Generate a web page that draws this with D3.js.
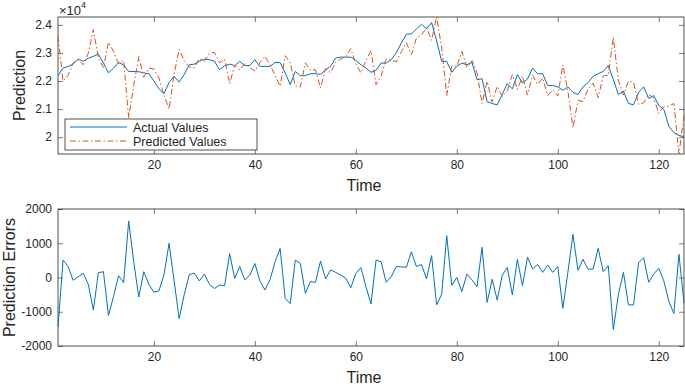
<!DOCTYPE html>
<html>
<head>
<meta charset="utf-8">
<script src="https://cdn.jsdelivr.net/npm/d3@7/dist/d3.min.js"></script>
<style>
body { margin: 0; background: #fff; }
text { font-family: "Liberation Sans", Arial, sans-serif; fill: #262626; }
</style>
</head>
<body>
<div id="main"></div>
<script>
// values, time steps 1..125
var actual = [
    22190, 22460, 22520, 22600, 22780, 22700, 22810, 22880, 22960, 22640,
    22290, 22460, 22660, 22570, 22340, 22340, 22330, 22290, 22260, 22000,
    21720, 21550, 21950, 22170, 21960, 22230, 22580, 22600, 22700, 22780,
    22760, 22700, 22400, 22550, 22600, 22550, 22700, 22550, 22550, 22760,
    22520, 22520, 22520, 22660, 22660, 22290, 21870, 22340, 22190, 22190,
    22260, 22260, 22230, 22400, 22520, 22820, 22850, 22850, 22850, 22730,
    22580, 22460, 22310, 22380, 22640, 22640, 22760, 23000, 23350, 23670,
    23680, 23850, 24020, 23860, 24080, 23430, 22700, 22700, 22310, 22520,
    22640, 22580, 22660, 22050, 22080, 21260, 21200, 21150, 21520, 21910,
    21720, 22230, 21930, 22070, 22460, 22260, 22260, 21840, 21840, 21790,
    21670, 21790, 21600, 21520, 21790, 21950, 22170, 22260, 22340, 22550,
    22050, 21520, 21640, 21200, 21150, 21600, 21790, 21380, 21480, 21130,
    20990, 20390, 20160, 20060, 20020
];
var predicted = [
    23590, 22000, 22200, 22650, 22760, 22580, 22990, 23830, 22820, 22470,
    23380, 23050, 22620, 22720, 20690, 21850, 22870, 22130, 22460, 22430,
    22110, 21500, 21000, 22250, 23130, 22720, 22500, 22470, 22800, 22700,
    22990, 23020, 22650, 22780, 21900, 22570, 22390, 22620, 22480, 22350,
    22650, 22880, 22580, 22200, 21810, 22900, 22640, 21830, 21780, 22650,
    22380, 22400, 21750, 22440, 22300, 22670, 22780, 22870, 23150, 22610,
    22290, 22730, 23080, 21870, 22180, 22780, 22740, 22680, 23040, 23370,
    22930, 23530, 23640, 23900, 23450, 24280, 23190, 21480, 22550, 22520,
    23050, 22480, 22730, 22300, 21200, 21990, 21250, 21810, 21450, 21640,
    22230, 21700, 22170, 21500, 22210, 21880, 22110, 21480, 21690, 21470,
    22570, 21640, 20340, 21310, 21270, 21710, 21920, 21410, 22180, 22200,
    23560, 22010, 21500, 22000, 21950, 21170, 21220, 21520, 21400, 20850,
    21090, 21100, 21200, 19400, 20770
];
var errors = [
    -1440, 510, 320, -80, 20, 120, -200, -950, 140, 170,
    -1110, -550, 50, -150, 1650, 460, -570, 170, -200, -430,
    -390, 80, 1000, -100, -1200, -500, 80, 130, -100, 100,
    -200, -320, -220, -240, 700, -25, 320, -70, 70, 410,
    -100, -365, -60, 460, 850, -610, -765, 510, 410, -460,
    -120, -140, 480, -40, 220, 150, 70, -20, -300, 120,
    290, -270, -770, 510, 460, -140, 20, 320, 310, 300,
    750, 320, 380, -40, 640, -800, -490, 1220, -230, 0,
    -410, 100, -70, -270, 880, -725, -50, -660, 70, 290,
    -510, 530, -240, 590, 250, 380, 150, 365, 150, 320,
    -900, 150, 1260, 210, 530, 240, 250, 850, 170, 345,
    -1520, -500, 150, -800, -800, 430, 580, -140, 100, 270,
    -100, -700, -1050, 680, -750
];
var xTicks = [20, 40, 60, 80, 100, 120];
var topTicks = [20000, 21000, 22000, 23000, 24000];
var bottomTicks = [-2000, -1000, 0, 1000, 2000];
var legendLabels = ["Actual Values", "Predicted Values"];

var ctx = {
    w: 685,
    h: 387,
    left: 58,
    right: 684,
    blue: "#0072BD",
    orange: "#D95319",
    axis: "#262626"
};

var svg = d3.select("#main").append("svg")
    .attr("width", ctx.w)
    .attr("height", ctx.h);

var x = d3.scaleLinear().domain([1, actual.length]).range([ctx.left, ctx.right]);

var drawPanel = function (top, bottom, y, ticks, fmt) {
    var g = svg.append("g");
    var styleAxis = function (a) {
        a.select(".domain").remove();
        a.selectAll("line").attr("stroke", ctx.axis).attr("stroke-width", 0.6);
        a.selectAll("text").style("font-size", "12px").attr("fill", ctx.axis);
    };
    g.append("g").attr("transform", "translate(0," + bottom + ")")
        .call(d3.axisBottom(x).tickValues(xTicks).tickSizeInner(-5).tickSizeOuter(0).tickPadding(6))
        .call(styleAxis);
    g.append("g").attr("transform", "translate(0," + top + ")")
        .call(d3.axisTop(x).tickValues(xTicks).tickSizeInner(-5).tickSizeOuter(0).tickFormat(""))
        .call(styleAxis);
    g.append("g").attr("transform", "translate(" + ctx.left + ",0)")
        .call(d3.axisLeft(y).tickValues(ticks).tickSizeInner(-5).tickSizeOuter(0).tickPadding(6).tickFormat(fmt))
        .call(styleAxis);
    g.append("g").attr("transform", "translate(" + ctx.right + ",0)")
        .call(d3.axisRight(y).tickValues(ticks).tickSizeInner(-5).tickSizeOuter(0).tickFormat(""))
        .call(styleAxis);
    g.append("rect")
        .attr("x", ctx.left).attr("y", top)
        .attr("width", ctx.right - ctx.left).attr("height", bottom - top)
        .attr("fill", "none").attr("stroke", ctx.axis).attr("stroke-width", 0.8);
    return g;
};

// ---- top panel: actual vs predicted
var yTop = d3.scaleLinear()
    .domain(d3.extent(actual.concat(predicted)))
    .range([154, 17]);
var topPanel = drawPanel(17, 154, yTop, topTicks, function (d) { return d / 10000; });

var line = function (y) {
    return d3.line().x(function (d, i) { return x(i + 1); }).y(function (d) { return y(d); });
};

topPanel.append("path").datum(actual)
    .attr("d", line(yTop)).attr("fill", "none")
    .attr("stroke", ctx.blue).attr("stroke-width", 1);
topPanel.append("path").datum(predicted)
    .attr("d", line(yTop)).attr("fill", "none")
    .attr("stroke", ctx.orange).attr("stroke-width", 1)
    .attr("stroke-dasharray", "6,2.5,1.5,2.5");

var mult = svg.append("text").attr("x", 59).attr("y", 14.5).style("font-size", "13px");
mult.append("tspan").text("\u00d710");
mult.append("tspan").attr("dy", -7).style("font-size", "9px").text("4");

svg.append("text")
    .attr("transform", "translate(25,85.5) rotate(-90)")
    .attr("text-anchor", "middle").style("font-size", "16px")
    .text("Prediction");
svg.append("text")
    .attr("x", 364).attr("y", 191)
    .attr("text-anchor", "middle").style("font-size", "16px")
    .text("Time");

// legend
var legend = svg.append("g");
legend.append("rect")
    .attr("x", 65).attr("y", 119).attr("width", 192).attr("height", 31)
    .attr("fill", "#fff").attr("stroke", ctx.axis).attr("stroke-width", 0.8);
legendLabels.forEach(function (lab, i) {
    var ly = 127 + i * 14;
    legend.append("line")
        .attr("x1", 70).attr("x2", 127).attr("y1", ly).attr("y2", ly)
        .attr("stroke", i === 0 ? ctx.blue : ctx.orange).attr("stroke-width", 1)
        .attr("stroke-dasharray", i === 0 ? null : "6,2.5,1.5,2.5");
    legend.append("text")
        .attr("x", 133).attr("y", ly + 4.5)
        .style("font-size", "12.5px")
        .text(lab);
});

// ---- bottom panel: errors
var yBottom = d3.scaleLinear().domain([-2000, 2000]).range([346, 209]);
var bottomPanel = drawPanel(209, 346, yBottom, bottomTicks, function (d) { return d; });

bottomPanel.append("path").datum(errors)
    .attr("d", line(yBottom)).attr("fill", "none")
    .attr("stroke", ctx.blue).attr("stroke-width", 1);

svg.append("text")
    .attr("transform", "translate(15,277.5) rotate(-90)")
    .attr("text-anchor", "middle").style("font-size", "16px")
    .text("Prediction Errors");
svg.append("text")
    .attr("x", 364).attr("y", 383)
    .attr("text-anchor", "middle").style("font-size", "16px")
    .text("Time");
</script>
</body>
</html>
